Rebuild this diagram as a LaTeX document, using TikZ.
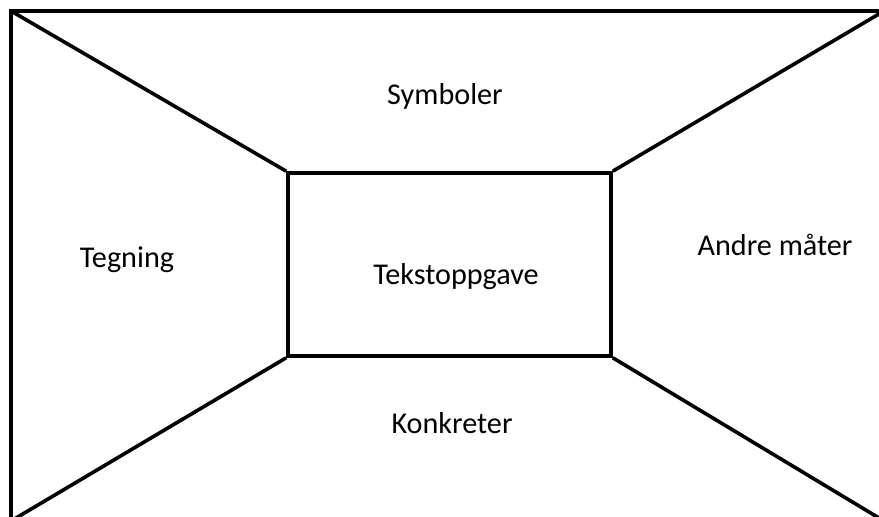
\documentclass[tikz,border=0pt]{standalone}
\usepackage{fontspec}
\setmainfont{Carlito}
\usepackage{tikz}

\tikzset{
	wall/.style={line width=1.8pt, line join=miter},
	label/.style={anchor=base, inner sep=0pt, font=\fontsize{15.1}{18}\selectfont}
}

\begin{document}
\begin{tikzpicture}[x=0.5pt, y=-0.5pt]
	\useasboundingbox (0,0) rectangle (879,517);
	\clip (0,0) rectangle (879,517);
	
	% outer frame and its corners
	\coordinate (o1) at (11,11);
	\coordinate (o2) at (884,11);
	\coordinate (o3) at (884,521);
	\coordinate (o4) at (11,521);
	\draw[wall] (o1) -- (o2) -- (o3) -- (o4) -- cycle;
	
	% back wall
	\node[wall, draw, minimum width=161.5pt, minimum height=91.5pt, inner sep=0pt] (back) at (449.5,264.5) {};
	
	\draw[wall] (o1) -- (back.north west);
	\draw[wall] (o2) -- (back.north east);
	\draw[wall] (o3) -- (back.south east);
	\draw[wall] (o4) -- (back.south west);
	
	\node[label] (symb) at (445,105) {Symboler};
	\node[label] (tegn) at (127,268) {Tegning};
	\node[label] (tekst) at (456,285) {Tekstoppgave};
	\node[label] (andre) at (775,256) {Andre måter};
	\node[label] (konk) at (452,434) {Konkreter};
\end{tikzpicture}
\end{document}
